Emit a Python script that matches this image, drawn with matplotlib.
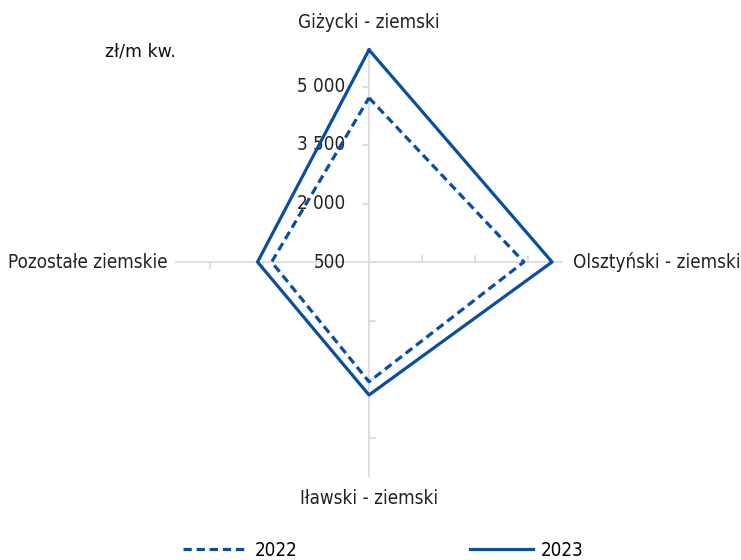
import matplotlib.pyplot as plt
import numpy as np

# ceny gruntów rolnych wg rejonów (zł/m kw.)
kategorie = ['Giżycki - ziemski', 'Olsztyński - ziemski', 'Iławski - ziemski', 'Pozostałe ziemskie']
ceny_2022 = [4710, 4890, 3570, 3260]
ceny_2023 = [5940, 5690, 3910, 3660]
lata = ['2022', '2023']

skala_min, skala_max = 500, 6000
podzialka = [500, 2000, 3500, 5000]

niebieski = '#0a4f9e'
szary = '#d9d9d9'
tekst = dict(family='DejaVu Sans', stretch='condensed', size=13.5, color='#222222')

# osie: góra, prawo, dół, lewo
kierunki = np.array([[0, 1], [1, 0], [0, -1], [-1, 0]])
# kreski podziałki prostopadle do osi
kreski = np.array([[-1, 0], [0, 1], [1, 0], [0, -1]])


def punkty(wartosci):
    r = np.array(wartosci, dtype=float) - skala_min
    xy = kierunki * r[:, None]
    return np.vstack([xy, xy[:1]])


fig = plt.figure(figsize=(7.41, 5.60), dpi=100)
ax = fig.add_axes([175 / 741, (560 - 476.5) / 560, 388 / 741, 429 / 560])
R = skala_max - skala_min
ax.set_xlim(-R, R)
ax.set_ylim(-R, R)
ax.axis('off')

# osie promieniowe
for d, k in zip(kierunki, kreski):
    ax.plot([0, d[0] * R], [0, d[1] * R], color=szary, lw=1.2, zorder=1)
    for t in podzialka[1:]:
        r = t - skala_min
        x0, y0 = d * r
        dl = 170 if k[0] != 0 else 155
        ax.plot([x0, x0 + k[0] * dl], [y0, y0 + k[1] * dl], color=szary, lw=1.2, zorder=1)

# opisy podziałki na osi górnej
for t in podzialka:
    ax.annotate(f'{t:,}'.replace(',', ' '), xy=(0, t - skala_min), xytext=(-17, 0),
                textcoords='offset points', ha='right', va='center',
                annotation_clip=False, **tekst)

xy22 = punkty(ceny_2022)
xy23 = punkty(ceny_2023)
l22, = ax.plot(xy22[:, 0], xy22[:, 1], color=niebieski, lw=2.3, dashes=(2.6, 1.5),
               label=lata[0], zorder=3)
l23, = ax.plot(xy23[:, 0], xy23[:, 1], color=niebieski, lw=2.3, label=lata[1], zorder=3)

# nazwy osi
offsety = [(0, 18), (7.5, 0), (0, -16), (-5, 0)]
wyrown = [('center', 'center'), ('left', 'center'), ('center', 'center'), ('right', 'center')]
for nazwa, d, off, (ha, va) in zip(kategorie, kierunki, offsety, wyrown):
    ax.annotate(nazwa, xy=(d[0] * R, d[1] * R), xytext=off, textcoords='offset points',
                ha=ha, va=va, annotation_clip=False, **tekst)

fig.text(105 / 741, 1 - 52 / 560, 'zł/m kw.', ha='left', va='center', fontsize=12.5,
         family='DejaVu Sans', weight='medium', color='#111111')

fig.legend(handles=[l22, l23], loc='center', bbox_to_anchor=(383.5 / 741, 1 - 550 / 560),
           ncol=2, frameon=False, borderpad=0, handlelength=3.4, handletextpad=0.4,
           columnspacing=9.2, prop={'family': 'DejaVu Sans', 'stretch': 'condensed', 'size': 13.5})

fig.savefig('out.png', dpi=100)
